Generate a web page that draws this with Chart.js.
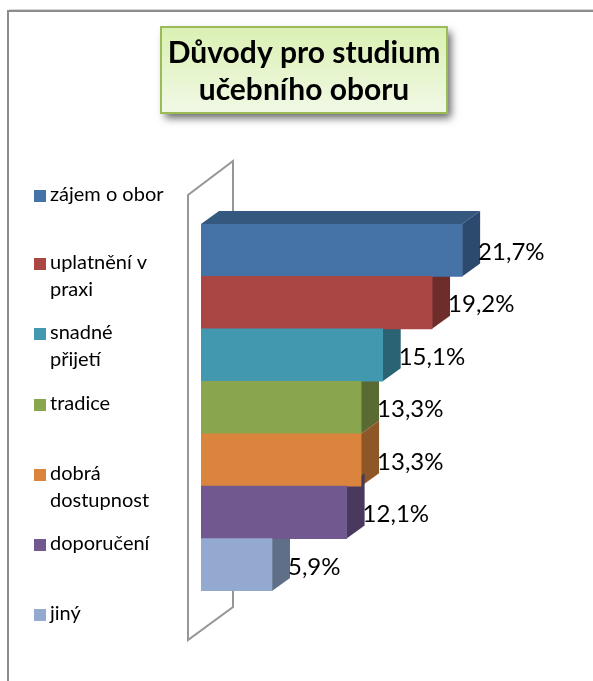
<!DOCTYPE html>
<html lang="cs"><head><meta charset="utf-8">
<style>html,body{margin:0;padding:0;background:#fff}canvas{display:block}</style>
<script src="https://cdn.jsdelivr.net/npm/chart.js@4"></script>
</head><body>
<div style="width:593px;height:681px"><canvas id="c" width="593" height="681"></canvas></div>
<script>
const titleLines = ["Důvody pro studium", "učebního oboru"];
const categories = ["zájem o obor", "uplatnění v praxi", "snadné přijetí", "tradice", "dobrá dostupnost", "doporučení", "jiný"];
const legendLines = [["zájem o obor"], ["uplatnění v", "praxi"], ["snadné", "přijetí"], ["tradice"], ["dobrá", "dostupnost"], ["doporučení"], ["jiný"]];
const values = [21.7, 19.2, 15.1, 13.3, 13.3, 12.1, 5.9];
const valueLabels = ["21,7%", "19,2%", "15,1%", "13,3%", "13,3%", "12,1%", "5,9%"];
const frontColors = ["#4572A7", "#AA4643", "#4198AF", "#89A54E", "#DB843D", "#71588F", "#93A9CF"];
const sideColors = ["#2C4A6E", "#6E2C2B", "#2A6373", "#596B32", "#8F5627", "#49395D", "#5F6F88"];
const topColor = "#35587F";
const legendY = [195, 263, 333, 404, 474, 544, 614];
const FONT = "Lato, Carlito, 'Open Sans', sans-serif";
const dx = 18, dy = 13;

const decor = {
  id: "decor",
  beforeDatasetsDraw(chart) {
    const c = chart.ctx;
    c.save();
    c.fillStyle = "#fff"; c.fillRect(0, 0, 593, 681);
    // frame: only top and left edges are visible
    c.strokeStyle = "#d8d8d8"; c.lineWidth = 1;
    c.beginPath(); c.moveTo(593, 9.5); c.lineTo(9, 9.5); c.stroke();
    c.strokeStyle = "#8c8c8c"; c.lineWidth = 2;
    c.beginPath(); c.moveTo(593, 11); c.lineTo(8, 11); c.lineTo(8, 681); c.stroke();
    // title box
    c.save();
    c.shadowColor = "rgba(0,0,0,0.6)"; c.shadowBlur = 8; c.shadowOffsetX = 4; c.shadowOffsetY = 5;
    const g = c.createLinearGradient(0, 27, 0, 113);
    g.addColorStop(0, "#DAF0B2"); g.addColorStop(1, "#F1F9E6");
    c.fillStyle = g; c.fillRect(161, 27, 286, 86);
    c.restore();
    c.strokeStyle = "#9BBB59"; c.lineWidth = 2; c.strokeRect(161, 27, 286, 86);
    c.fillStyle = "#000"; c.font = "bold 30px " + FONT;
    c.textAlign = "center"; c.textBaseline = "middle";
    c.fillText(titleLines[0], 304, 53);
    c.fillText(titleLines[1], 304, 90);
    // wall
    const a = chart.chartArea;
    c.strokeStyle = "#969696"; c.lineWidth = 2; c.lineJoin = "miter";
    c.beginPath();
    c.moveTo(a.left + 32, a.top - 10);
    c.lineTo(a.left + 32, a.top - 63);
    c.lineTo(a.left - 13, a.top - 29);
    c.lineTo(a.left - 13, a.bottom + 49);
    c.lineTo(a.left + 32, a.bottom + 16);
    c.lineTo(a.left + 32, a.bottom);
    c.stroke();
    // legend
    c.font = "20px " + FONT; c.textAlign = "left"; c.textBaseline = "middle";
    legendLines.forEach((lines, i) => {
      c.fillStyle = frontColors[i];
      c.fillRect(34, legendY[i] - 5, 12, 12);
      c.fillStyle = "#000";
      lines.forEach((t, j) => c.fillText(t, 50, legendY[i] + j * 27));
    });
    // bar depth
    const m = chart.getDatasetMeta(0).data;
    m.forEach((b, i) => {
      const top = b.y - b.height / 2, bot = b.y + b.height / 2;
      if (i === 0) {
        c.fillStyle = topColor;
        c.beginPath();
        c.moveTo(a.left, top); c.lineTo(a.left + dx, top - dy);
        c.lineTo(b.x + dx, top - dy); c.lineTo(b.x, top); c.closePath(); c.fill();
      }
      c.fillStyle = sideColors[i];
      c.beginPath();
      c.moveTo(b.x, top); c.lineTo(b.x + dx, top - dy);
      c.lineTo(b.x + dx, bot - dy); c.lineTo(b.x, bot); c.closePath(); c.fill();
    });
    c.restore();
  },
  afterDatasetsDraw(chart) {
    const c = chart.ctx;
    c.save();
    c.fillStyle = "#000"; c.font = "24px " + FONT;
    c.textAlign = "left"; c.textBaseline = "middle";
    chart.getDatasetMeta(0).data.forEach((b, i) => {
      c.fillText(valueLabels[i], b.x + 16, b.y + 2);
    });
    c.restore();
  }
};

new Chart(document.getElementById("c"), {
  type: "bar",
  data: { labels: categories, datasets: [{ data: values, backgroundColor: frontColors, categoryPercentage: 1, barPercentage: 1, borderWidth: 0 }] },
  options: {
    indexAxis: "y", responsive: false, animation: false,
    layout: { padding: { left: 201, right: 31, top: 224, bottom: 90 } },
    scales: {
      x: { display: false, min: 0, max: 30 },
      y: { display: false }
    },
    plugins: { legend: { display: false }, title: { display: false }, tooltip: { enabled: false } }
  },
  plugins: [decor]
});
</script>
</body></html>
